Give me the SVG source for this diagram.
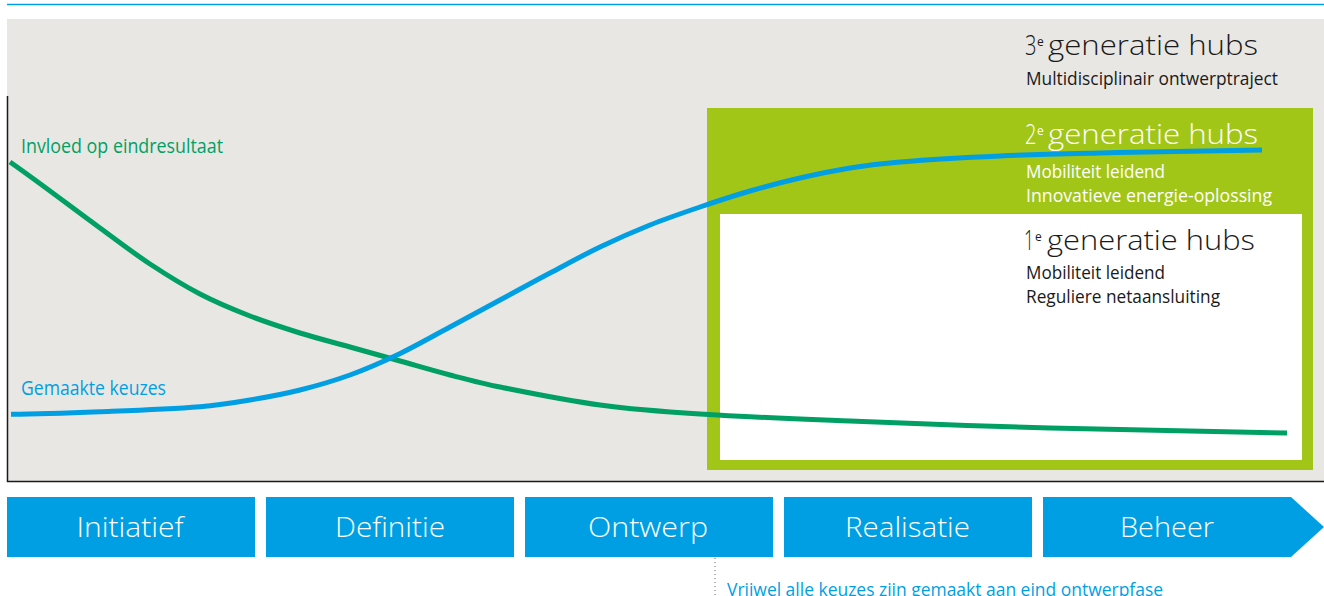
<svg xmlns="http://www.w3.org/2000/svg" width="1324" height="596" viewBox="0 0 1324 596">
<style>
.t{font-family:"Open Sans","Liberation Sans",sans-serif}
.big{font-size:27px;font-weight:300}
.sup{font-size:12px;font-weight:400}
.sub{font-size:19px}
.dark{fill:#1a1a1a}
.wht{fill:#ffffff}
.phase{fill:#009fe3}
.plabel{font-family:"Open Sans","Liberation Sans",sans-serif;font-size:28px;font-weight:300;fill:#ffffff;text-anchor:middle}
.curve{fill:none;stroke-width:5;stroke-linecap:butt}
</style>
<rect width="1324" height="596" fill="#ffffff"/>
<line x1="7" y1="4.5" x2="1324" y2="4.5" stroke="#009fe3" stroke-width="1.5"/>
<g id="chart-bg">
<rect x="7" y="19" width="1317" height="462" fill="#e8e7e3"/>
<line x1="7.5" y1="96" x2="7.5" y2="482" stroke="#1a1a1a" stroke-width="1.5"/>
<line x1="7" y1="481.5" x2="1324" y2="481.5" stroke="#1a1a1a" stroke-width="1.5"/>
</g>
<g id="hub3">
<text class="t big dark" x="1025" y="54.5"><tspan textLength="11.5" lengthAdjust="spacingAndGlyphs">3</tspan><tspan class="sup" x="1037" dy="-9">e</tspan><tspan x="1048" dy="9" textLength="210" lengthAdjust="spacingAndGlyphs">generatie hubs</tspan></text>
<text class="t sub dark" x="1026" y="85" textLength="252" lengthAdjust="spacingAndGlyphs">Multidisciplinair ontwerptraject</text>
</g>
<g id="hub2">
<rect x="707" y="108" width="606" height="362" fill="#a2c617"/>
<text class="t big wht" x="1025" y="144"><tspan textLength="11.5" lengthAdjust="spacingAndGlyphs">2</tspan><tspan class="sup" x="1037" dy="-9">e</tspan><tspan x="1048" dy="9" textLength="210" lengthAdjust="spacingAndGlyphs">generatie hubs</tspan></text>
<text class="t sub wht" x="1026" y="178" textLength="139" lengthAdjust="spacingAndGlyphs">Mobiliteit leidend</text>
<text class="t sub wht" x="1026" y="202" textLength="246" lengthAdjust="spacingAndGlyphs">Innovatieve energie-oplossing</text>
</g>
<g id="hub1">
<rect x="720" y="214" width="582" height="246" fill="#ffffff"/>
<text class="t big dark" x="1024" y="250"><tspan textLength="10" lengthAdjust="spacingAndGlyphs">1</tspan><tspan class="sup" x="1035" dy="-9">e</tspan><tspan x="1047" dy="9" textLength="208" lengthAdjust="spacingAndGlyphs">generatie hubs</tspan></text>
<text class="t sub dark" x="1026" y="279" textLength="139" lengthAdjust="spacingAndGlyphs">Mobiliteit leidend</text>
<text class="t sub dark" x="1026" y="303" textLength="194" lengthAdjust="spacingAndGlyphs">Reguliere netaansluiting</text>
</g>
<g id="connectors">
<path id="invloed-curve" class="curve" stroke="#00a064" d="M10,162 C40,183 70,206.1 100,228 C116.7,240.2 133.3,253 150,264 C166.7,275 183.3,285.3 200,294 C216.7,302.7 233.3,309.5 250,316 C266.7,322.5 283.3,327.8 300,333 C316.7,338.2 333.3,342.3 350,347 C366.7,351.7 383.3,356.3 400,361 C416.7,365.7 433.3,370.7 450,375 C466.7,379.3 483.3,383.7 500,387 C533.3,393.7 566.7,400.5 600,405 C633.3,409.5 666.7,411.9 700,414 C750,417.2 800,419 850,421 C916.7,423.7 983.3,426.2 1050,428 C1129,430.1 1208,431.8 1287,433"/>
<path id="keuzes-curve" class="curve" stroke="#009fe3" d="M11,414.3 C40.7,414 70.3,412.9 100,411.7 C133.3,410.4 166.7,409.3 200,406.7 C216.7,405.4 233.3,402.8 250,400 C266.7,397.2 283.3,394.2 300,390 C316.7,385.8 333.3,381 350,375 C365.7,369.3 381.3,362.5 397,355 C414.7,346.5 432.3,336.4 450,327 C466.7,318.1 483.3,309 500,300 C516.7,291 533.3,281.8 550,273 C566.7,264.2 583.3,255 600,247 C616.7,239 633.3,231.7 650,225 C666.7,218.3 683.3,212.7 700,207 C716.7,201.3 733.3,195.8 750,191 C766.7,186.2 783.3,181.8 800,178 C816.7,174.2 833.3,170.7 850,168 C866.7,165.3 883.3,163.3 900,162 C933.3,159.3 966.7,157.5 1000,156 C1033.3,154.5 1066.7,153.8 1100,153 C1154,151.8 1208,150.5 1262,150"/>
<line x1="715" y1="558" x2="715" y2="596" stroke="#666666" stroke-width="1" stroke-dasharray="1,3"/>
</g>
<g id="labels">
<text class="t" x="21" y="153" font-size="20" fill="#00a064" textLength="202" lengthAdjust="spacingAndGlyphs">Invloed op eindresultaat</text>
<text class="t" x="21" y="395" font-size="20" fill="#009fe3" textLength="145" lengthAdjust="spacingAndGlyphs">Gemaakte keuzes</text>
</g>
<g id="phase-initiatief">
<rect class="phase" x="7" y="497" width="248" height="60"/>
<text class="plabel" x="130" y="537" textLength="107" lengthAdjust="spacingAndGlyphs">Initiatief</text>
</g>
<g id="phase-definitie">
<rect class="phase" x="266" y="497" width="248" height="60"/>
<text class="plabel" x="390" y="537" textLength="110" lengthAdjust="spacingAndGlyphs">Definitie</text>
</g>
<g id="phase-ontwerp">
<rect class="phase" x="525" y="497" width="248" height="60"/>
<text class="plabel" x="648" y="537" textLength="120" lengthAdjust="spacingAndGlyphs">Ontwerp</text>
</g>
<g id="phase-realisatie">
<rect class="phase" x="784" y="497" width="248" height="60"/>
<text class="plabel" x="907.5" y="537" textLength="125" lengthAdjust="spacingAndGlyphs">Realisatie</text>
</g>
<g id="phase-beheer">
<polygon class="phase" points="1043,497 1291,497 1324,527 1291,557 1043,557"/>
<text class="plabel" x="1167" y="537" textLength="94" lengthAdjust="spacingAndGlyphs">Beheer</text>
</g>
<g id="note">
<text class="t" x="727" y="596" font-size="19" fill="#009fe3" textLength="436" lengthAdjust="spacingAndGlyphs">Vrijwel alle keuzes zijn gemaakt aan eind ontwerpfase</text>
</g>
</svg>
